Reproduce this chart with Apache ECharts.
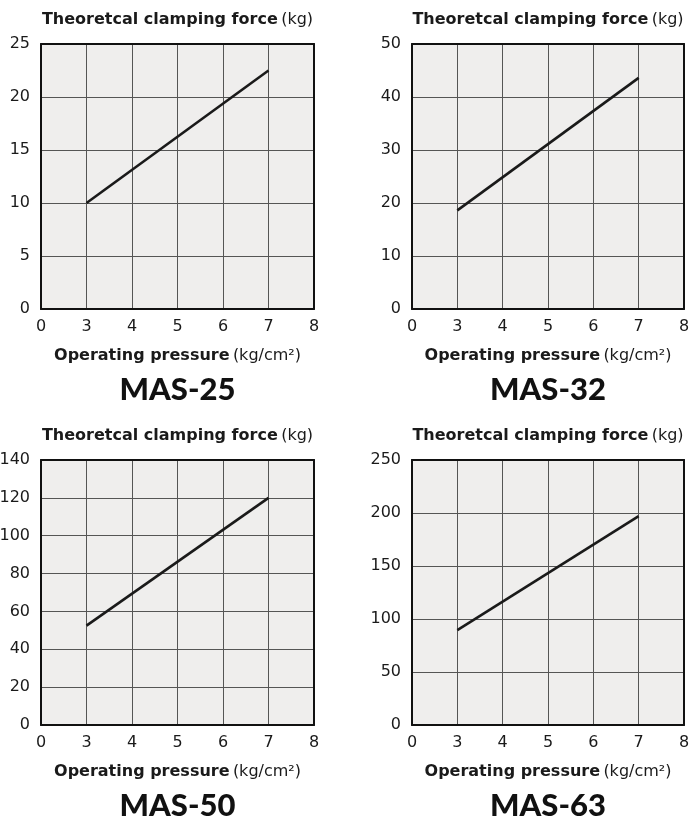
<!DOCTYPE html>
<html>
<head>
<meta charset="utf-8">
<script src="https://cdn.jsdelivr.net/npm/echarts@6/dist/echarts.min.js"></script>
<style>
html,body{margin:0;padding:0;background:#fff;}
#c{width:691px;height:818px;}
</style>
</head>
<body>
<div id="c"></div>
<script>
// ---- data ----
const pressureLabels = ['0', '3', '4', '5', '6', '7', '8'];
const modelNames = ['MAS-25', 'MAS-32', 'MAS-50', 'MAS-63'];
const mas25 = [null, 10, null, null, null, 22.5, null];
const mas32 = [null, 18.6, null, null, null, 43.6, null];
const mas50 = [null, 52.5, null, null, null, 120, null];
const mas63 = [null, 89.6, null, null, null, 197, null];
const yMax = [25, 50, 140, 250];
const yStep = [5, 10, 20, 50];
const seriesValues = [mas25, mas32, mas50, mas63];

const yTitle = '{b|Theoretcal clamping force} {n|(kg)}';
const xTitle = '{b|Operating pressure} {n|(kg/cm²)}';

// ---- layout ----
const grids = [
  {left: 41, top: 44, width: 273, height: 265},
  {left: 412, top: 44, width: 272, height: 265},
  {left: 41, top: 460, width: 273, height: 265},
  {left: 412, top: 460, width: 272, height: 265}
];
const FONT = '"DejaVu Sans", sans-serif';
const lineCol = '#111';
const richName = {
  b: {fontFamily: FONT, fontWeight: 'bold', fontSize: 16, color: '#1a1a1a'},
  n: {fontFamily: FONT, fontWeight: 'normal', fontSize: 16, color: '#1a1a1a'}
};

const xAxis = [], yAxis = [], series = [], graphic = [];
grids.forEach((g, i) => {
  xAxis.push({
    type: 'category', gridIndex: i, data: pressureLabels, boundaryGap: false,
    position: 'bottom',
    axisLine: {show: true, onZero: false, lineStyle: {color: lineCol, width: 2}},
    axisTick: {show: false},
    axisLabel: {fontFamily: FONT, fontSize: 16, color: '#1a1a1a', margin: 10},
    splitLine: {show: true, lineStyle: {color: '#555', width: 1}},
    name: xTitle, nameLocation: 'middle', nameGap: 39,
    nameTextStyle: {rich: richName}
  });
  xAxis.push({
    type: 'category', gridIndex: i, data: pressureLabels, boundaryGap: false,
    position: 'top',
    axisLine: {show: true, onZero: false, lineStyle: {color: lineCol, width: 2}},
    axisTick: {show: false}, axisLabel: {show: false}, splitLine: {show: false},
    name: yTitle, nameLocation: 'middle', nameGap: 16,
    nameTextStyle: {rich: richName}
  });
  yAxis.push({
    type: 'value', gridIndex: i, min: 0, max: yMax[i], interval: yStep[i],
    position: 'left',
    axisLine: {show: true, onZero: false, lineStyle: {color: lineCol, width: 2}},
    axisTick: {show: false},
    axisLabel: {fontFamily: FONT, fontSize: 16, color: '#1a1a1a', margin: 11},
    splitLine: {show: true, lineStyle: {color: '#555', width: 1}}
  });
  yAxis.push({
    type: 'value', gridIndex: i, min: 0, max: yMax[i], interval: yStep[i],
    position: 'right',
    axisLine: {show: true, onZero: false, lineStyle: {color: lineCol, width: 2}},
    axisTick: {show: false}, axisLabel: {show: false}, splitLine: {show: false}
  });
  series.push({
    type: 'line', xAxisIndex: i * 2, yAxisIndex: i * 2,
    data: seriesValues[i], connectNulls: true, showSymbol: false, symbol: 'none',
    lineStyle: {color: '#1a1a1a', width: 2.6}, silent: true, z: 5
  });
  graphic.push({
    type: 'text',
    x: g.left + g.width / 2, y: g.top + g.height + 81,
    style: {
      text: modelNames[i], fill: '#111',
      font: '900 31px Lato, "Open Sans", sans-serif',
      textAlign: 'center', textVerticalAlign: 'middle'
    }
  });
});

const chart = echarts.init(document.getElementById('c'), null, {renderer: 'canvas'});
chart.setOption({
  animation: false,
  backgroundColor: '#fff',
  grid: grids.map(g => Object.assign({show: true, backgroundColor: '#efeeed', borderWidth: 0,
    containLabel: false, outerBoundsMode: 'none'}, g)),
  xAxis, yAxis, series, graphic
});
</script>
</body>
</html>
